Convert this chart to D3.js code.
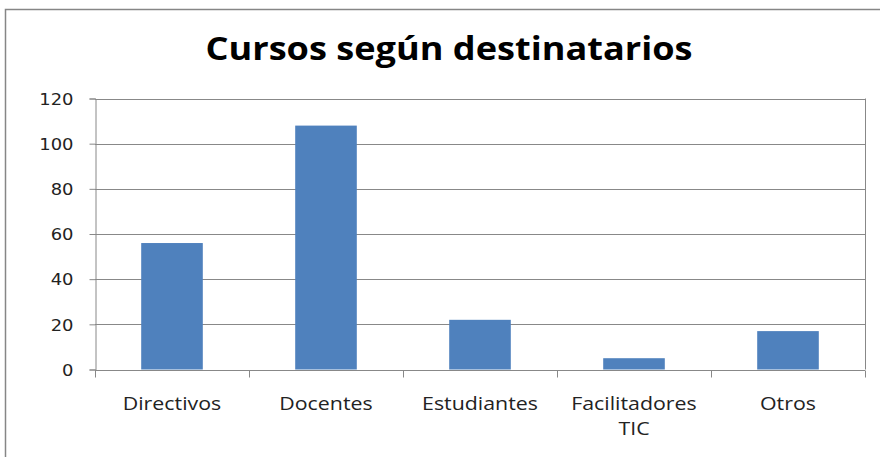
<!DOCTYPE html>
<html><head><meta charset="utf-8">
<script src="https://cdn.jsdelivr.net/npm/d3@7"></script>
<style>body{margin:0;background:#fff;}svg{display:block;}</style>
</head><body>
<svg id="c" width="880" height="457"></svg>
<script>
const categories = ["Directivos", "Docentes", "Estudiantes", "Facilitadores TIC", "Otros"];
const values = [56, 108, 22, 5, 17];
const yTicks = [0, 20, 40, 60, 80, 100, 120];
const title = "Cursos según destinatarios";

const svg = d3.select("#c");
const m = {left: 95, right: 865, top: 98.5, bottom: 369.5};

function stretch(sel, k) {
  sel.each(function() {
    const w = this.getComputedTextLength();
    d3.select(this).attr("textLength", w * k).attr("lengthAdjust", "spacingAndGlyphs");
  });
}

svg.append("rect").attr("x", 5.5).attr("y", 9.5).attr("width", 890).attr("height", 470)
  .attr("fill", "#fff").attr("stroke", "#868686").attr("stroke-width", 1.5);

svg.append("text").attr("x", 449).attr("y", 60).attr("text-anchor", "middle")
  .attr("font-family", "Open Sans, sans-serif").attr("font-weight", "bold")
  .attr("font-size", 32).attr("fill", "#000").text(title)
  .attr("textLength", 487).attr("lengthAdjust", "spacingAndGlyphs");

const x = d3.scaleBand().domain(categories).range([m.left, m.right]).paddingInner(0.6).paddingOuter(0.3);
const xb = d3.scaleBand().domain(categories).range([m.left, m.right]);
const y = d3.scaleLinear().domain([0, 120]).range([m.bottom, m.top]);

// gridlines
svg.append("g").selectAll("line").data(yTicks.filter(d => d > 0)).join("line")
  .attr("x1", m.left).attr("x2", m.right)
  .attr("y1", d => Math.round(y(d)) + 0.5).attr("y2", d => Math.round(y(d)) + 0.5)
  .attr("stroke", "#888").attr("stroke-width", 1);
// right border
svg.append("line").attr("x1", m.right + 0.5).attr("x2", m.right + 0.5)
  .attr("y1", m.top).attr("y2", m.bottom).attr("stroke", "#888");

// bars
svg.append("g").selectAll("rect").data(categories).join("rect")
  .attr("x", d => x(d)).attr("width", x.bandwidth())
  .attr("y", (d, i) => y(values[i])).attr("height", (d, i) => y(0) - y(values[i]))
  .attr("fill", "#4f81bd");

// y axis
const ya = d3.axisLeft(y).tickValues(yTicks).tickSize(6).tickPadding(16);
const gy = svg.append("g").attr("transform", `translate(${m.left + 0.5},0)`).call(ya);
gy.selectAll("line, path").attr("stroke", "#888");
gy.selectAll("text").attr("font-family", "DejaVu Sans, sans-serif").attr("font-size", 16)
  .attr("fill", "#222").attr("dy", "0.36em");
stretch(gy.selectAll("text"), 1.12);

// x axis
const gx = svg.append("g").attr("transform", `translate(0,${Math.round(y(0)) + 0.5})`);
gx.append("line").attr("x1", m.left).attr("x2", m.right).attr("stroke", "#888");
const bounds = categories.map(c => xb(c)).concat([m.right]);
gx.selectAll("line.t").data(bounds).join("line").attr("class", "t")
  .attr("x1", d => Math.round(d) + 0.5).attr("x2", d => Math.round(d) + 0.5)
  .attr("y1", 0).attr("y2", 7).attr("stroke", "#888");
const labs = gx.selectAll("text").data(categories).join("text")
  .attr("text-anchor", "middle").attr("font-family", "Open Sans, sans-serif")
  .attr("font-size", 17.5).attr("fill", "#222");
labs.each(function(d) {
  const parts = d === "Facilitadores TIC" ? ["Facilitadores", "TIC"] : [d];
  const g = d3.select(this);
  parts.forEach((p, i) => {
    const t = gx.append("text").attr("text-anchor", "middle").attr("font-family", "Open Sans, sans-serif")
      .attr("font-size", 17.5).attr("fill", "#222")
      .attr("x", xb(d) + xb.bandwidth() / 2).attr("y", 39 + i * 25).text(p);
    stretch(t, 1.22);
  });
  g.remove();
});
</script>
</body></html>
